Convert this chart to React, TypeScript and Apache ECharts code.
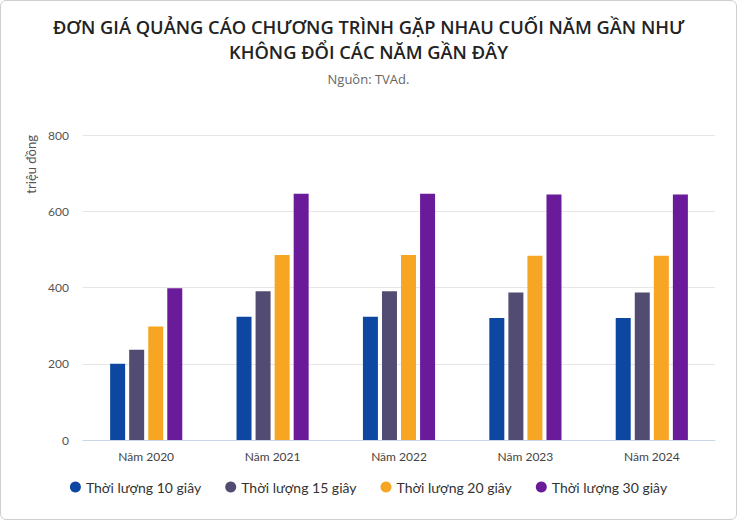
import React, { useEffect, useRef } from "react";
import * as echarts from "echarts";

const categories = ["Năm 2020", "Năm 2021", "Năm 2022", "Năm 2023", "Năm 2024"];
const seriesNames = ["Thời lượng 10 giây", "Thời lượng 15 giây", "Thời lượng 20 giây", "Thời lượng 30 giây"];
const s10 = [200, 323, 323, 320, 320];
const s15 = [237, 390, 390, 387, 387];
const s20 = [298, 485, 485, 483, 483];
const s30 = [398, 646, 646, 644, 644];
const colors = ["#0d47a1", "#524c72", "#f6a623", "#6a1b9a"];
const yTicks = [0, 200, 400, 600, 800];

export default function App() {
  const ref = useRef<HTMLDivElement>(null);
  useEffect(() => {
    if (!ref.current) return;
    const chart = echarts.init(ref.current, undefined, { renderer: "svg" });
    const data = [s10, s15, s20, s30];
    chart.setOption({
      animation: false,
      textStyle: { fontFamily: "Lato, 'Open Sans', sans-serif" },
      title: {
        text: "ĐƠN GIÁ QUẢNG CÁO CHƯƠNG TRÌNH GẶP NHAU CUỐI NĂM GẦN NHƯ\nKHÔNG ĐỔI CÁC NĂM GẦN ĐÂY",
        subtext: "Nguồn: TVAd.",
        left: "center",
        top: 8,
        itemGap: 8,
        textStyle: { fontFamily: "'Open Sans', sans-serif", fontSize: 18.3, fontWeight: 600, color: "#222", lineHeight: 25 },
        subtextStyle: { fontFamily: "'Open Sans', sans-serif", fontSize: 13, color: "#666" },
      },
      legend: {
        bottom: 20,
        left: "center",
        icon: "circle",
        itemWidth: 11,
        itemHeight: 11,
        itemGap: 24,
        textStyle: { fontSize: 14, color: "#333", fontFamily: "Lato, sans-serif" },
        data: seriesNames,
      },
      grid: { left: 82, right: 21, top: 134, bottom: 79, containLabel: false },
      xAxis: {
        type: "category",
        data: categories,
        axisTick: { show: false },
        axisLine: { lineStyle: { color: "#ccd6eb" } },
        axisLabel: { color: "#444", fontSize: 12, margin: 10 },
      },
      yAxis: {
        type: "value",
        min: 0,
        max: 800,
        interval: 200,
        name: "triệu đồng",
        nameLocation: "end",
        nameRotate: 90,
        nameGap: 0,
        nameTextStyle: { color: "#555", fontSize: 13, align: "right", verticalAlign: "bottom", padding: [0, 0, 46, 0] },
        axisLabel: {
          color: "#555",
          fontSize: 12,
          margin: 14,
          formatter: (v: number) => (yTicks.includes(v) ? String(v) : ""),
        },
        splitLine: { lineStyle: { color: "#e6e6e6" } },
      },
      series: data.map((d, i) => ({
        name: seriesNames[i],
        type: "bar",
        data: d,
        barWidth: 15,
        barGap: "27%",
        itemStyle: { color: colors[i] },
      })),
    });
    return () => chart.dispose();
  }, []);
  return (
    <div
      style={{
        position: "fixed",
        left: 0,
        top: 0,
        width: 737,
        height: 520,
        boxSizing: "border-box",
        border: "1px solid #cfcfcf",
        borderRadius: 6,
        background: "#fff",
      }}
    >
      <div ref={ref} style={{ width: 735, height: 518 }} />
    </div>
  );
}
